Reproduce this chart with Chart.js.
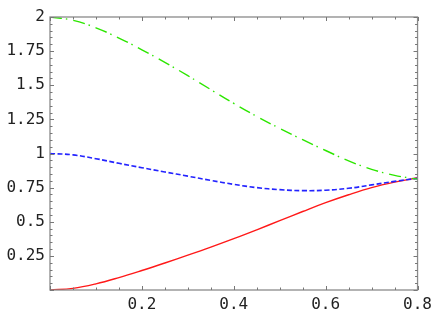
<!DOCTYPE html>
<html>
<head>
<meta charset="utf-8">
<script src="https://cdn.jsdelivr.net/npm/chart.js@4/dist/chart.umd.min.js"></script>
<style>
html,body{margin:0;padding:0;background:#fff;}
#wrap{width:437px;height:323px;position:relative;}
</style>
</head>
<body>
<div id="wrap"><canvas id="c" width="437" height="323"></canvas></div>
<script>
const xValues = [0, 0.05, 0.1, 0.15, 0.2, 0.25, 0.3, 0.35, 0.4, 0.45, 0.5, 0.55, 0.6, 0.65, 0.7, 0.75, 0.8];
const redValues = [0, 0.012, 0.045, 0.091, 0.143, 0.198, 0.255, 0.314, 0.376, 0.441, 0.508, 0.575, 0.64, 0.698, 0.75, 0.79, 0.822];
const blueValues = [1.0, 0.99, 0.962, 0.928, 0.896, 0.865, 0.834, 0.803, 0.774, 0.75, 0.735, 0.728, 0.731, 0.745, 0.77, 0.796, 0.818];
const greenValues = [2.0, 1.976, 1.921, 1.846, 1.76, 1.668, 1.57, 1.468, 1.367, 1.272, 1.184, 1.101, 1.022, 0.946, 0.884, 0.84, 0.812];
const xTicks = [0, 0.2, 0.4, 0.6, 0.8];
const yTicks = [0, 0.25, 0.5, 0.75, 1, 1.25, 1.5, 1.75, 2];
const xMinor = 0.05, yMinor = 0.05;

const pts = v => xValues.map((x, i) => ({x: x, y: v[i]}));
const FONT = {family: '"DejaVu Sans Mono", monospace', size: 16};

const framePlugin = {
  id: 'frame',
  afterDraw(chart) {
    const {ctx, chartArea: a, scales: {x, y}} = chart;
    ctx.save();
    ctx.strokeStyle = '#8a8a8a';
    ctx.lineWidth = 1.3;
    ctx.strokeRect(a.left, a.top, a.right - a.left, a.bottom - a.top);
    ctx.strokeStyle = '#777';
    ctx.lineWidth = 1;
    ctx.beginPath();
    const nx = Math.round((x.max - x.min) / xMinor);
    for (let i = 0; i <= nx; i++) {
      const v = x.min + i * xMinor;
      const major = xTicks.some(t => Math.abs(t - v) < 1e-6);
      const len = major ? 4 : 2.5;
      const px = Math.round(x.getPixelForValue(v)) + 0.5;
      ctx.moveTo(px, a.bottom); ctx.lineTo(px, a.bottom - len);
      ctx.moveTo(px, a.top); ctx.lineTo(px, a.top + len);
    }
    const ny = Math.round((y.max - y.min) / yMinor);
    for (let i = 0; i <= ny; i++) {
      const v = y.min + i * yMinor;
      const major = yTicks.some(t => Math.abs(t - v) < 1e-6);
      const len = major ? 4 : 2.5;
      const py = Math.round(y.getPixelForValue(v)) + 0.5;
      ctx.moveTo(a.left, py); ctx.lineTo(a.left + len, py);
      ctx.moveTo(a.right, py); ctx.lineTo(a.right - len, py);
    }
    ctx.stroke();
    ctx.restore();
  }
};

new Chart(document.getElementById('c'), {
  type: 'scatter',
  data: {
    datasets: [
      {data: pts(greenValues), showLine: true, borderColor: 'rgb(45,230,0)', borderWidth: 1.4, borderDash: [12, 4, 1.5, 6], pointRadius: 0, tension: 0.4, fill: false},
      {data: pts(blueValues), showLine: true, borderColor: 'rgb(35,35,255)', borderWidth: 1.6, borderDash: [5, 2.5], pointRadius: 0, tension: 0.4, fill: false},
      {data: pts(redValues), showLine: true, borderColor: 'rgb(255,25,25)', borderWidth: 1.4, pointRadius: 0, tension: 0.4, fill: false}
    ]
  },
  options: {
    responsive: false,
    animation: false,
    events: [],
    layout: {padding: {left: 0, top: 17, right: 17, bottom: 0}},
    plugins: {legend: {display: false}, tooltip: {enabled: false}},
    scales: {
      x: {
        type: 'linear', min: 0, max: 0.8,
        afterBuildTicks: s => { s.ticks = xTicks.map(v => ({value: v})); },
        afterFit: s => { s.height = 33; },
        grid: {display: false, drawTicks: false},
        border: {display: false},
        ticks: {padding: 5, color: '#222', font: FONT, maxRotation: 0, autoSkip: false,
          callback: v => v === 0 ? '' : String(v)}
      },
      y: {
        type: 'linear', min: 0, max: 2,
        afterBuildTicks: s => { s.ticks = yTicks.map(v => ({value: v})); },
        afterFit: s => { s.width = 50; },
        grid: {display: false, drawTicks: false},
        border: {display: false},
        ticks: {padding: 5, color: '#222', font: FONT, autoSkip: false,
          callback: v => v === 0 ? '' : String(v)}
      }
    }
  },
  plugins: [framePlugin]
});
</script>
</body>
</html>
